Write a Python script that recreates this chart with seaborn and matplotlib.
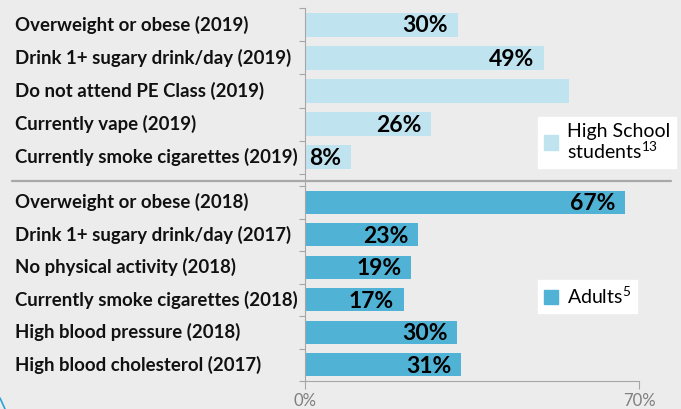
import matplotlib
matplotlib.use("Agg")
import matplotlib.pyplot as plt
import seaborn as sns
import numpy as np
from matplotlib.lines import Line2D
from matplotlib.patches import Patch
from matplotlib.transforms import blended_transform_factory

# data
hs_cats = ["Overweight or obese (2019)", "Drink 1+ sugary drink/day (2019)",
           "Do not attend PE Class (2019)", "Currently vape (2019)",
           "Currently smoke cigarettes (2019)"]
hs_vals = [32.0, 50.1, 55.3, 26.4, 9.6]
hs_labels = ["30%", "49%", "", "26%", "8%"]

ad_cats = ["Overweight or obese (2018)", "Drink 1+ sugary drink/day (2017)",
           "No physical activity (2018)", "Currently smoke cigarettes (2018)",
           "High blood pressure (2018)", "High blood cholesterol (2017)"]
ad_vals = [67.1, 23.7, 22.2, 20.7, 31.9, 32.7]
ad_labels = ["67%", "23%", "19%", "17%", "30%", "31%"]

hs_color = "#c0e4ef"
ad_color = "#50b2d4"
bg = "#ececec"
axis_gray = "#a6a6a6"

sns.set_theme(style="white")
plt.rcParams["font.family"] = ["Lato", "DejaVu Sans"]
plt.rcParams["mathtext.fontset"] = "custom"
plt.rcParams["mathtext.rm"] = "Lato"

W, H = 681, 409
fig = plt.figure(figsize=(W / 100, H / 100), dpi=100, facecolor=bg)


def fy(px):
    return 1 - px / H


left = 305 / W
width = (639.3 - 305) / W
row = 33.2
ax_top = fig.add_axes([left, fy(186), width, (186 - 8) / H])
ax_bot = fig.add_axes([left, fy(381), width, (381 - 186) / H])

for ax, cats, vals, labels, color in [
    (ax_top, hs_cats, hs_vals, hs_labels, hs_color),
    (ax_bot, ad_cats, ad_vals, ad_labels, ad_color),
]:
    ax.set_facecolor("none")
    sns.barplot(x=vals, y=cats, ax=ax, color=color, width=0.72,
                orient="h", saturation=1, linewidth=0, edgecolor=color)
    ax.set_xlim(0, 70)
    n = len(cats)
    for i, (v, lab) in enumerate(zip(vals, labels)):
        if lab:
            ax.annotate(lab, xy=(v, i), xytext=(-7, -1), textcoords="offset points",
                        ha="right", va="center", fontsize=16.5,
                        fontweight="bold", color="black")
    tr = blended_transform_factory(fig.transFigure, ax.transData)
    for i, c in enumerate(cats):
        ax.text(15 / W, i, c, transform=tr, ha="left", va="center",
                fontsize=13.4, fontweight="bold", color="#111111")
    ax.set_yticks(np.arange(-0.5, n, 1.0))
    ax.set_yticklabels([])
    ax.set_ylabel("")
    ax.tick_params(axis="y", length=4, width=0.8, color=axis_gray, left=True)
    for s in ["top", "right"]:
        ax.spines[s].set_visible(False)
    ax.spines["left"].set_color(axis_gray)
    ax.spines["left"].set_linewidth(0.8)

# top panel: extend down to the gap, no x axis
ax_top.set_ylim(4.5 + (186 - 174) / row, -0.5)
ax_top.spines["bottom"].set_visible(False)
ax_top.set_xticks([])

ax_bot.set_ylim(5.5, -0.5)
ax_bot.spines["bottom"].set_color(axis_gray)
ax_bot.spines["bottom"].set_linewidth(0.8)
ax_bot.set_xticks([0, 70])
ax_bot.set_xticklabels(["0%", "70%"])
ax_bot.tick_params(axis="x", length=6, width=0.8, color=axis_gray, bottom=True,
                   labelsize=12, labelcolor="#7f7f7f", pad=3)

# separator line between the two groups
fig.add_artist(Line2D([12 / W, 671 / W], [fy(181), fy(181)], color="#a8a8a8", lw=1.6))

# legends
leg_kw = dict(loc="upper left", bbox_transform=fig.transFigure, frameon=True,
              fancybox=False, edgecolor="white", facecolor="white", framealpha=1,
              fontsize=14, handlelength=0.75, handleheight=0.75,
              handletextpad=0.45, borderpad=0.3, borderaxespad=0)
leg1 = ax_top.legend(handles=[Patch(color=hs_color,
                                    label="High School\nstudents$\\mathregular{^{13}}$")],
                     bbox_to_anchor=(538 / W, fy(117)), **leg_kw)
leg1.get_texts()[0].set_linespacing(1.05)
leg1.get_texts()[0].set_color("black")
leg2 = ax_bot.legend(handles=[Patch(color=ad_color, label="Adults$\\mathregular{^{5}}$")],
                     bbox_to_anchor=(538 / W, fy(280)), **leg_kw)
leg2.get_texts()[0].set_color("black")

# corner of the outer rounded border
fig.add_artist(Line2D([0, 5 / W], [fy(398), fy(409)], color="#2aa4d5", lw=1.2))

fig.savefig("out.png", dpi=100, facecolor=bg)
